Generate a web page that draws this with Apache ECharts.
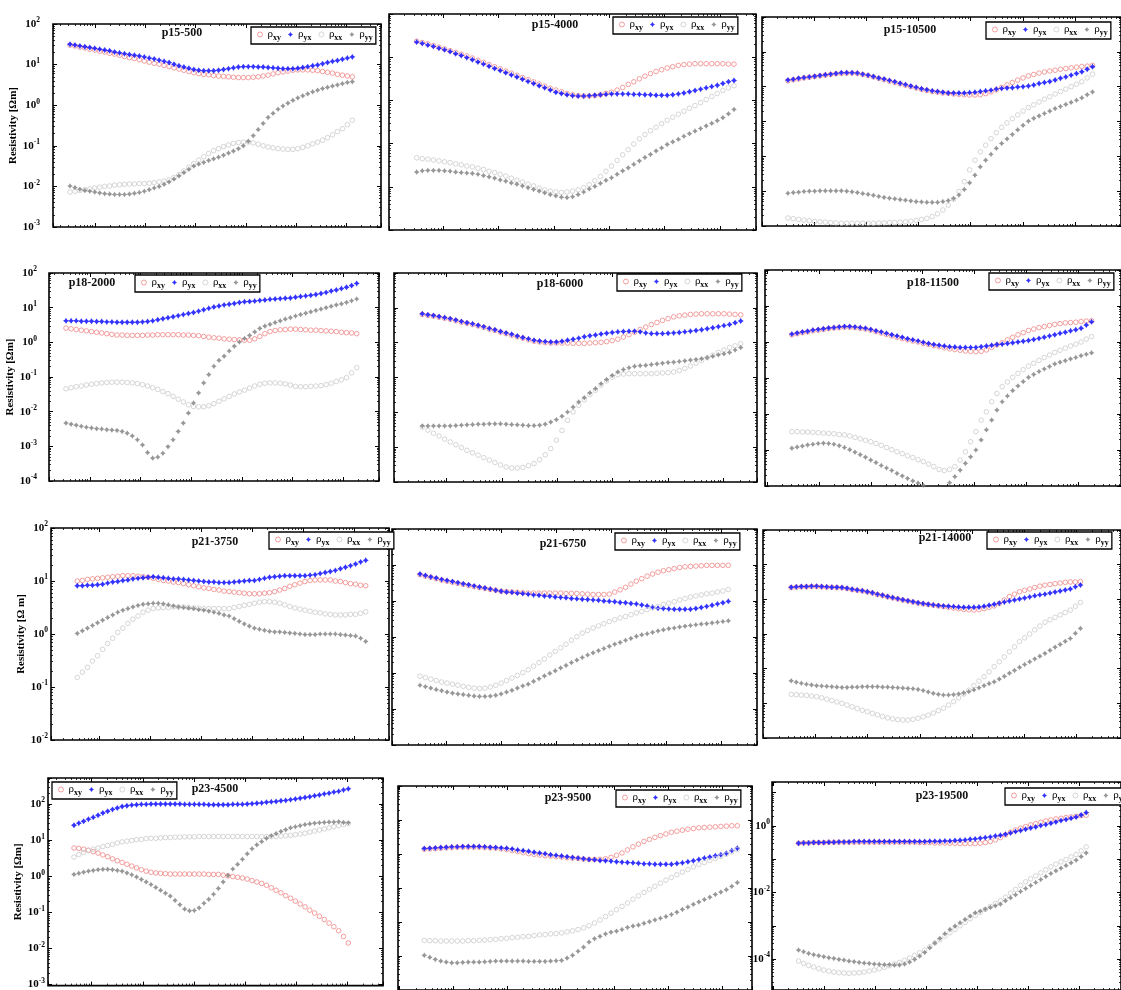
<!DOCTYPE html>
<html><head><meta charset="utf-8">
<script src="https://cdn.jsdelivr.net/npm/echarts@6/dist/echarts.min.js"></script>
<style>html,body{margin:0;padding:0;background:#fff}#c{width:1121px;height:990px}</style>
</head><body><div id="c"></div>
<script>
// Values are log10 of resistivity (Ωm),
// 58 samples per curve (index = position along the frequency axis).
const p15_500_xy=[1.48,1.46,1.43,1.41,1.38,1.36,1.33,1.31,1.28,1.26,1.23,1.20,1.17,1.15,1.12,1.09,1.06,1.03,1.01,0.98,0.95,0.92,0.89,0.86,0.83,0.80,0.78,0.76,0.75,0.73,0.72,0.71,0.70,0.69,0.68,0.68,0.68,0.69,0.70,0.72,0.74,0.77,0.80,0.82,0.84,0.86,0.87,0.87,0.87,0.86,0.85,0.83,0.81,0.79,0.76,0.74,0.72,0.70];
const p15_500_yx=[1.50,1.48,1.46,1.44,1.42,1.40,1.38,1.36,1.34,1.31,1.29,1.27,1.25,1.23,1.21,1.19,1.16,1.14,1.11,1.08,1.05,1.01,0.97,0.94,0.91,0.88,0.86,0.85,0.85,0.85,0.86,0.88,0.90,0.92,0.94,0.95,0.95,0.95,0.94,0.94,0.93,0.92,0.91,0.90,0.90,0.90,0.91,0.93,0.95,0.97,0.99,1.02,1.05,1.08,1.10,1.13,1.16,1.19];
const p15_500_xx=[-2.14,-2.12,-2.10,-2.08,-2.06,-2.04,-2.02,-2.00,-1.99,-1.97,-1.96,-1.95,-1.94,-1.94,-1.93,-1.93,-1.92,-1.91,-1.89,-1.87,-1.84,-1.78,-1.71,-1.62,-1.53,-1.44,-1.35,-1.27,-1.19,-1.12,-1.07,-1.02,-0.98,-0.94,-0.92,-0.91,-0.91,-0.93,-0.96,-1.00,-1.03,-1.05,-1.07,-1.08,-1.09,-1.09,-1.07,-1.04,-1.00,-0.95,-0.91,-0.86,-0.80,-0.73,-0.65,-0.58,-0.48,-0.37];
const p15_500_yy=[-1.99,-2.03,-2.07,-2.10,-2.12,-2.14,-2.16,-2.18,-2.19,-2.20,-2.20,-2.20,-2.19,-2.17,-2.15,-2.12,-2.08,-2.04,-2.00,-1.95,-1.89,-1.82,-1.74,-1.66,-1.58,-1.50,-1.45,-1.41,-1.36,-1.32,-1.28,-1.23,-1.18,-1.13,-1.07,-1.00,-0.89,-0.75,-0.60,-0.45,-0.30,-0.20,-0.10,-0.02,0.05,0.12,0.18,0.23,0.28,0.33,0.37,0.41,0.44,0.47,0.50,0.53,0.56,0.58];

const p15_4000_xy=[1.37,1.34,1.31,1.27,1.23,1.19,1.15,1.11,1.07,1.03,0.98,0.93,0.88,0.83,0.78,0.73,0.68,0.63,0.58,0.53,0.48,0.43,0.38,0.33,0.28,0.24,0.20,0.16,0.13,0.11,0.10,0.10,0.11,0.13,0.16,0.19,0.24,0.30,0.37,0.43,0.50,0.56,0.62,0.67,0.71,0.75,0.78,0.81,0.83,0.84,0.85,0.85,0.85,0.85,0.85,0.85,0.84,0.84];
const p15_4000_yx=[1.35,1.32,1.28,1.25,1.21,1.17,1.13,1.08,1.04,0.99,0.94,0.89,0.84,0.79,0.74,0.69,0.64,0.59,0.54,0.49,0.44,0.39,0.34,0.29,0.24,0.19,0.16,0.13,0.11,0.10,0.10,0.11,0.12,0.13,0.14,0.15,0.15,0.15,0.15,0.14,0.14,0.13,0.13,0.12,0.12,0.12,0.13,0.15,0.17,0.20,0.23,0.26,0.29,0.32,0.35,0.39,0.43,0.46];
const p15_4000_xx=[-1.33,-1.35,-1.36,-1.38,-1.40,-1.42,-1.44,-1.47,-1.49,-1.52,-1.54,-1.57,-1.60,-1.64,-1.67,-1.71,-1.75,-1.80,-1.85,-1.89,-1.94,-1.98,-2.03,-2.07,-2.10,-2.12,-2.13,-2.12,-2.10,-2.07,-2.02,-1.95,-1.86,-1.76,-1.64,-1.52,-1.39,-1.26,-1.14,-1.01,-0.89,-0.79,-0.70,-0.62,-0.54,-0.46,-0.39,-0.32,-0.25,-0.18,-0.12,-0.05,0.02,0.09,0.16,0.23,0.29,0.34];
const p15_4000_yy=[-1.66,-1.63,-1.62,-1.62,-1.62,-1.63,-1.64,-1.66,-1.67,-1.68,-1.69,-1.71,-1.74,-1.77,-1.80,-1.84,-1.87,-1.91,-1.94,-1.98,-2.02,-2.06,-2.10,-2.14,-2.18,-2.21,-2.24,-2.25,-2.23,-2.18,-2.12,-2.05,-1.99,-1.92,-1.85,-1.79,-1.71,-1.63,-1.56,-1.48,-1.40,-1.32,-1.25,-1.17,-1.10,-1.02,-0.96,-0.90,-0.83,-0.77,-0.71,-0.65,-0.59,-0.53,-0.47,-0.40,-0.31,-0.21];

const p15_10500_xy=[0.17,0.20,0.22,0.25,0.27,0.29,0.31,0.33,0.35,0.37,0.38,0.39,0.39,0.38,0.35,0.32,0.28,0.24,0.20,0.16,0.12,0.08,0.04,0.00,-0.04,-0.08,-0.11,-0.14,-0.16,-0.18,-0.19,-0.21,-0.22,-0.23,-0.24,-0.24,-0.23,-0.20,-0.15,-0.09,-0.02,0.05,0.12,0.19,0.25,0.31,0.35,0.39,0.42,0.45,0.47,0.50,0.52,0.54,0.56,0.58,0.59,0.61];
const p15_10500_yx=[0.19,0.21,0.24,0.26,0.28,0.30,0.32,0.34,0.36,0.38,0.40,0.40,0.40,0.39,0.36,0.33,0.29,0.25,0.22,0.18,0.14,0.10,0.06,0.02,-0.02,-0.06,-0.09,-0.12,-0.14,-0.16,-0.18,-0.18,-0.18,-0.18,-0.17,-0.16,-0.14,-0.12,-0.10,-0.07,-0.05,-0.04,-0.03,-0.01,0.00,0.02,0.05,0.09,0.12,0.15,0.19,0.24,0.28,0.33,0.38,0.43,0.50,0.57];
const p15_10500_xx=[-3.77,-3.79,-3.81,-3.83,-3.85,-3.87,-3.88,-3.89,-3.90,-3.91,-3.92,-3.92,-3.92,-3.92,-3.92,-3.92,-3.92,-3.91,-3.91,-3.90,-3.90,-3.89,-3.88,-3.86,-3.84,-3.81,-3.78,-3.73,-3.65,-3.54,-3.40,-3.23,-3.01,-2.73,-2.39,-2.11,-1.87,-1.68,-1.49,-1.32,-1.17,-1.04,-0.92,-0.81,-0.70,-0.60,-0.52,-0.44,-0.36,-0.29,-0.21,-0.14,-0.07,0.00,0.07,0.14,0.25,0.36];
const p15_10500_yy=[-3.06,-3.04,-3.03,-3.01,-3.00,-3.00,-2.99,-2.99,-2.99,-2.99,-2.99,-3.00,-3.02,-3.04,-3.07,-3.09,-3.12,-3.15,-3.18,-3.20,-3.22,-3.24,-3.26,-3.28,-3.30,-3.31,-3.32,-3.32,-3.32,-3.30,-3.27,-3.21,-3.11,-2.95,-2.76,-2.54,-2.30,-2.11,-1.94,-1.77,-1.63,-1.50,-1.37,-1.24,-1.11,-0.99,-0.91,-0.84,-0.77,-0.70,-0.63,-0.57,-0.51,-0.45,-0.39,-0.32,-0.23,-0.15];

const p18_2000_xy=[0.41,0.39,0.37,0.35,0.33,0.31,0.29,0.27,0.25,0.23,0.21,0.21,0.20,0.20,0.20,0.20,0.21,0.21,0.22,0.22,0.22,0.22,0.22,0.21,0.21,0.20,0.19,0.17,0.15,0.13,0.12,0.10,0.09,0.08,0.07,0.06,0.06,0.10,0.17,0.25,0.31,0.34,0.36,0.37,0.38,0.38,0.37,0.36,0.35,0.35,0.34,0.33,0.32,0.31,0.29,0.28,0.27,0.25];
const p18_2000_yx=[0.62,0.62,0.62,0.61,0.61,0.61,0.60,0.60,0.59,0.59,0.58,0.58,0.58,0.58,0.58,0.59,0.60,0.62,0.65,0.68,0.71,0.74,0.77,0.80,0.83,0.86,0.90,0.94,0.98,1.02,1.05,1.08,1.10,1.12,1.15,1.17,1.18,1.19,1.21,1.22,1.24,1.25,1.26,1.27,1.28,1.30,1.32,1.34,1.36,1.38,1.41,1.44,1.48,1.51,1.55,1.59,1.64,1.70];
const p18_2000_xx=[-1.34,-1.31,-1.28,-1.26,-1.23,-1.21,-1.19,-1.17,-1.16,-1.15,-1.15,-1.15,-1.16,-1.17,-1.19,-1.22,-1.26,-1.31,-1.36,-1.42,-1.48,-1.56,-1.64,-1.72,-1.80,-1.85,-1.86,-1.86,-1.83,-1.77,-1.70,-1.63,-1.56,-1.49,-1.43,-1.38,-1.32,-1.26,-1.21,-1.18,-1.17,-1.17,-1.18,-1.20,-1.23,-1.27,-1.28,-1.28,-1.27,-1.26,-1.25,-1.22,-1.18,-1.13,-1.08,-1.02,-0.88,-0.73];
const p18_2000_yy=[-2.33,-2.36,-2.39,-2.42,-2.45,-2.47,-2.49,-2.50,-2.52,-2.53,-2.54,-2.57,-2.62,-2.70,-2.81,-2.96,-3.18,-3.34,-3.31,-3.20,-3.01,-2.81,-2.57,-2.33,-2.04,-1.75,-1.46,-1.17,-0.93,-0.69,-0.52,-0.40,-0.25,-0.11,0.01,0.11,0.20,0.30,0.40,0.47,0.52,0.57,0.62,0.67,0.71,0.76,0.80,0.84,0.88,0.92,0.96,1.00,1.04,1.08,1.11,1.15,1.20,1.25];

const p18_6000_xy=[0.81,0.78,0.76,0.73,0.70,0.67,0.63,0.59,0.56,0.52,0.48,0.44,0.39,0.35,0.30,0.26,0.21,0.17,0.13,0.08,0.04,0.02,0.00,-0.01,-0.01,-0.01,-0.01,-0.02,-0.02,-0.02,-0.01,0.00,0.01,0.03,0.06,0.10,0.16,0.23,0.30,0.38,0.45,0.52,0.58,0.64,0.69,0.74,0.77,0.79,0.81,0.82,0.83,0.83,0.83,0.83,0.83,0.82,0.81,0.80];
const p18_6000_yx=[0.83,0.80,0.78,0.75,0.72,0.69,0.65,0.61,0.57,0.54,0.50,0.46,0.41,0.37,0.32,0.28,0.24,0.19,0.15,0.11,0.07,0.05,0.03,0.02,0.02,0.04,0.07,0.10,0.13,0.17,0.20,0.22,0.25,0.27,0.29,0.31,0.32,0.33,0.33,0.31,0.28,0.26,0.26,0.26,0.27,0.28,0.29,0.31,0.33,0.35,0.37,0.40,0.43,0.46,0.49,0.52,0.57,0.62];
const p18_6000_xx=[-2.42,-2.51,-2.60,-2.68,-2.77,-2.85,-2.93,-3.01,-3.09,-3.16,-3.23,-3.30,-3.37,-3.44,-3.51,-3.57,-3.60,-3.60,-3.58,-3.53,-3.47,-3.36,-3.22,-3.04,-2.80,-2.52,-2.23,-1.99,-1.80,-1.64,-1.49,-1.37,-1.22,-1.10,-0.99,-0.92,-0.90,-0.89,-0.89,-0.89,-0.89,-0.89,-0.88,-0.87,-0.86,-0.84,-0.80,-0.74,-0.67,-0.59,-0.51,-0.43,-0.36,-0.28,-0.21,-0.14,-0.09,-0.03];
const p18_6000_yy=[-2.39,-2.39,-2.39,-2.39,-2.39,-2.39,-2.38,-2.37,-2.36,-2.35,-2.34,-2.34,-2.33,-2.33,-2.33,-2.34,-2.35,-2.36,-2.37,-2.38,-2.38,-2.37,-2.34,-2.28,-2.21,-2.11,-1.99,-1.85,-1.70,-1.58,-1.44,-1.32,-1.18,-1.06,-0.94,-0.84,-0.77,-0.72,-0.68,-0.66,-0.65,-0.63,-0.61,-0.59,-0.57,-0.56,-0.54,-0.52,-0.50,-0.48,-0.46,-0.43,-0.39,-0.35,-0.32,-0.28,-0.21,-0.14];

const p18_11500_xy=[0.20,0.23,0.26,0.28,0.31,0.33,0.35,0.37,0.39,0.40,0.41,0.41,0.40,0.38,0.36,0.33,0.29,0.25,0.21,0.17,0.13,0.09,0.06,0.03,0.00,-0.04,-0.07,-0.10,-0.13,-0.16,-0.19,-0.21,-0.23,-0.25,-0.26,-0.27,-0.26,-0.22,-0.15,-0.08,-0.02,0.06,0.13,0.20,0.26,0.32,0.36,0.40,0.43,0.46,0.49,0.51,0.53,0.54,0.55,0.57,0.58,0.59];
const p18_11500_yx=[0.22,0.25,0.28,0.30,0.33,0.35,0.37,0.39,0.40,0.42,0.43,0.43,0.42,0.40,0.38,0.35,0.31,0.28,0.24,0.20,0.17,0.13,0.09,0.06,0.03,-0.01,-0.04,-0.07,-0.09,-0.11,-0.13,-0.14,-0.15,-0.15,-0.15,-0.15,-0.13,-0.11,-0.09,-0.07,-0.06,-0.04,-0.02,0.00,0.02,0.04,0.07,0.10,0.13,0.17,0.20,0.24,0.27,0.31,0.34,0.38,0.47,0.56];
const p18_11500_xx=[-2.49,-2.49,-2.50,-2.50,-2.51,-2.52,-2.53,-2.54,-2.55,-2.57,-2.58,-2.61,-2.65,-2.69,-2.73,-2.77,-2.82,-2.87,-2.93,-2.99,-3.05,-3.10,-3.16,-3.21,-3.27,-3.32,-3.39,-3.46,-3.54,-3.57,-3.54,-3.46,-3.28,-3.05,-2.77,-2.49,-2.17,-1.94,-1.66,-1.43,-1.24,-1.11,-0.98,-0.87,-0.77,-0.67,-0.59,-0.51,-0.43,-0.36,-0.29,-0.23,-0.17,-0.11,-0.06,0.00,0.08,0.15];
const p18_11500_yy=[-2.95,-2.92,-2.89,-2.86,-2.84,-2.82,-2.81,-2.82,-2.84,-2.88,-2.93,-2.99,-3.06,-3.13,-3.20,-3.28,-3.35,-3.43,-3.50,-3.57,-3.65,-3.72,-3.79,-3.86,-3.92,-3.98,-4.05,-4.11,-4.11,-4.05,-3.91,-3.74,-3.56,-3.37,-3.19,-3.00,-2.72,-2.44,-2.17,-1.89,-1.66,-1.50,-1.35,-1.22,-1.10,-0.98,-0.90,-0.82,-0.75,-0.68,-0.61,-0.56,-0.52,-0.47,-0.43,-0.38,-0.34,-0.30];

const p21_3750_xy=[1.00,1.01,1.03,1.04,1.05,1.06,1.07,1.08,1.09,1.10,1.10,1.10,1.09,1.08,1.07,1.05,1.03,1.01,1.00,0.98,0.97,0.95,0.93,0.91,0.89,0.87,0.86,0.84,0.83,0.81,0.80,0.79,0.78,0.77,0.76,0.76,0.76,0.77,0.78,0.80,0.83,0.86,0.90,0.93,0.96,0.99,1.01,1.02,1.02,1.02,1.02,1.00,0.99,0.97,0.95,0.94,0.92,0.91];
const p21_3750_yx=[0.91,0.91,0.92,0.92,0.93,0.94,0.96,0.98,0.99,1.01,1.02,1.04,1.05,1.06,1.07,1.08,1.07,1.06,1.05,1.04,1.04,1.03,1.02,1.01,1.00,0.99,0.98,0.98,0.97,0.97,0.97,0.98,0.99,1.00,1.01,1.01,1.03,1.05,1.07,1.08,1.09,1.10,1.10,1.10,1.10,1.10,1.11,1.12,1.14,1.16,1.18,1.20,1.23,1.26,1.29,1.32,1.36,1.39];
const p21_3750_xx=[-0.82,-0.72,-0.63,-0.51,-0.41,-0.29,-0.18,-0.08,0.03,0.11,0.20,0.28,0.34,0.41,0.45,0.48,0.49,0.50,0.50,0.51,0.51,0.51,0.50,0.49,0.49,0.48,0.48,0.48,0.48,0.48,0.48,0.50,0.52,0.54,0.56,0.58,0.60,0.61,0.61,0.60,0.58,0.55,0.52,0.49,0.47,0.45,0.43,0.41,0.40,0.38,0.37,0.36,0.36,0.36,0.37,0.37,0.39,0.42];
const p21_3750_yy=[0.01,0.06,0.11,0.16,0.21,0.26,0.31,0.36,0.41,0.45,0.48,0.51,0.54,0.56,0.57,0.58,0.58,0.57,0.55,0.53,0.51,0.50,0.49,0.48,0.46,0.45,0.43,0.41,0.39,0.36,0.34,0.29,0.24,0.19,0.15,0.11,0.09,0.07,0.05,0.04,0.04,0.03,0.02,0.01,0.00,-0.01,-0.01,-0.01,0.00,0.00,0.00,0.00,-0.01,-0.02,-0.03,-0.04,-0.08,-0.14];

const p21_6750_xy=[0.73,0.69,0.66,0.62,0.58,0.55,0.52,0.49,0.46,0.43,0.40,0.37,0.35,0.32,0.30,0.27,0.26,0.25,0.24,0.23,0.22,0.22,0.22,0.22,0.22,0.22,0.22,0.21,0.21,0.21,0.20,0.19,0.18,0.18,0.18,0.19,0.25,0.31,0.38,0.47,0.55,0.62,0.69,0.75,0.80,0.84,0.87,0.90,0.93,0.95,0.96,0.97,0.98,0.99,0.99,0.99,0.99,0.99];
const p21_6750_yx=[0.75,0.71,0.67,0.64,0.60,0.57,0.54,0.51,0.48,0.45,0.42,0.39,0.36,0.33,0.30,0.27,0.25,0.24,0.22,0.21,0.19,0.17,0.16,0.14,0.13,0.11,0.10,0.09,0.07,0.06,0.05,0.04,0.03,0.02,0.00,-0.01,-0.02,-0.04,-0.05,-0.07,-0.08,-0.11,-0.14,-0.17,-0.20,-0.21,-0.22,-0.23,-0.23,-0.23,-0.23,-0.21,-0.18,-0.15,-0.12,-0.08,-0.05,-0.01];
const p21_6750_xx=[-2.09,-2.13,-2.17,-2.21,-2.25,-2.28,-2.31,-2.34,-2.37,-2.40,-2.42,-2.43,-2.42,-2.39,-2.34,-2.28,-2.21,-2.14,-2.07,-1.99,-1.91,-1.81,-1.71,-1.61,-1.50,-1.40,-1.30,-1.20,-1.09,-0.99,-0.89,-0.82,-0.75,-0.69,-0.63,-0.57,-0.52,-0.47,-0.43,-0.38,-0.33,-0.29,-0.24,-0.19,-0.15,-0.10,-0.06,-0.02,0.03,0.07,0.11,0.14,0.17,0.20,0.22,0.25,0.28,0.32];
const p21_6750_yy=[-2.34,-2.38,-2.42,-2.46,-2.49,-2.53,-2.56,-2.58,-2.60,-2.62,-2.64,-2.65,-2.65,-2.64,-2.62,-2.58,-2.53,-2.48,-2.42,-2.36,-2.31,-2.23,-2.16,-2.08,-2.01,-1.94,-1.86,-1.79,-1.71,-1.64,-1.57,-1.50,-1.44,-1.38,-1.32,-1.26,-1.20,-1.15,-1.09,-1.04,-0.98,-0.94,-0.91,-0.87,-0.83,-0.80,-0.77,-0.75,-0.72,-0.70,-0.68,-0.66,-0.64,-0.63,-0.61,-0.59,-0.57,-0.55];

const p21_14000_xy=[0.34,0.35,0.36,0.36,0.37,0.37,0.36,0.35,0.35,0.34,0.33,0.31,0.28,0.26,0.24,0.21,0.18,0.14,0.11,0.07,0.04,0.01,-0.02,-0.05,-0.08,-0.11,-0.13,-0.15,-0.17,-0.19,-0.21,-0.23,-0.25,-0.27,-0.29,-0.30,-0.31,-0.30,-0.27,-0.23,-0.19,-0.12,-0.02,0.08,0.15,0.22,0.26,0.30,0.34,0.38,0.41,0.43,0.45,0.47,0.49,0.50,0.50,0.51];
const p21_14000_yx=[0.35,0.36,0.37,0.37,0.38,0.38,0.37,0.36,0.35,0.35,0.34,0.32,0.29,0.27,0.25,0.22,0.19,0.15,0.12,0.08,0.05,0.02,-0.01,-0.04,-0.07,-0.10,-0.12,-0.14,-0.16,-0.18,-0.19,-0.20,-0.21,-0.22,-0.23,-0.23,-0.23,-0.22,-0.20,-0.17,-0.14,-0.11,-0.08,-0.05,-0.02,0.01,0.04,0.07,0.10,0.13,0.15,0.18,0.21,0.24,0.27,0.30,0.36,0.41];
const p21_14000_xx=[-2.74,-2.75,-2.76,-2.77,-2.79,-2.81,-2.84,-2.88,-2.92,-2.96,-3.00,-3.05,-3.10,-3.15,-3.20,-3.24,-3.29,-3.33,-3.38,-3.42,-3.45,-3.47,-3.48,-3.48,-3.46,-3.43,-3.39,-3.34,-3.28,-3.21,-3.14,-3.05,-2.95,-2.84,-2.73,-2.62,-2.49,-2.36,-2.23,-2.09,-1.94,-1.80,-1.66,-1.51,-1.37,-1.22,-1.11,-1.00,-0.88,-0.77,-0.66,-0.59,-0.52,-0.45,-0.38,-0.31,-0.20,-0.09];
const p21_14000_yy=[-2.35,-2.39,-2.42,-2.45,-2.47,-2.49,-2.50,-2.51,-2.52,-2.53,-2.54,-2.54,-2.53,-2.53,-2.52,-2.52,-2.52,-2.52,-2.53,-2.53,-2.54,-2.55,-2.56,-2.57,-2.58,-2.60,-2.63,-2.67,-2.71,-2.74,-2.76,-2.76,-2.75,-2.73,-2.70,-2.66,-2.61,-2.55,-2.49,-2.43,-2.38,-2.30,-2.22,-2.13,-2.05,-1.96,-1.88,-1.80,-1.72,-1.64,-1.56,-1.47,-1.38,-1.30,-1.21,-1.13,-0.98,-0.84];

const p23_4500_xy=[0.78,0.77,0.75,0.72,0.68,0.64,0.59,0.54,0.48,0.43,0.38,0.33,0.28,0.23,0.18,0.14,0.11,0.09,0.08,0.07,0.06,0.06,0.06,0.06,0.06,0.06,0.06,0.06,0.05,0.05,0.05,0.03,0.01,-0.01,-0.03,-0.05,-0.08,-0.12,-0.16,-0.20,-0.25,-0.32,-0.39,-0.46,-0.54,-0.61,-0.69,-0.77,-0.85,-0.94,-1.02,-1.11,-1.20,-1.30,-1.40,-1.51,-1.67,-1.85];
const p23_4500_yx=[1.41,1.47,1.52,1.58,1.63,1.69,1.75,1.80,1.85,1.89,1.93,1.95,1.97,1.98,1.99,1.99,2.00,2.00,2.00,2.00,2.00,2.00,2.00,1.99,1.99,1.99,1.99,1.99,1.98,1.98,1.98,1.98,1.98,1.99,1.99,1.99,2.00,2.01,2.02,2.03,2.05,2.06,2.07,2.09,2.10,2.12,2.14,2.16,2.18,2.20,2.23,2.25,2.28,2.30,2.33,2.35,2.39,2.42];
const p23_4500_xx=[0.53,0.60,0.66,0.71,0.75,0.78,0.82,0.85,0.88,0.92,0.95,0.97,0.99,1.01,1.02,1.04,1.05,1.05,1.06,1.07,1.07,1.08,1.08,1.09,1.09,1.09,1.10,1.10,1.10,1.10,1.10,1.10,1.10,1.10,1.10,1.10,1.10,1.10,1.10,1.10,1.10,1.10,1.10,1.11,1.12,1.13,1.15,1.17,1.19,1.22,1.25,1.28,1.31,1.34,1.37,1.40,1.43,1.46];
const p23_4500_yy=[0.05,0.08,0.11,0.14,0.16,0.18,0.19,0.19,0.18,0.16,0.14,0.09,0.04,-0.02,-0.09,-0.16,-0.23,-0.31,-0.39,-0.47,-0.55,-0.67,-0.79,-0.91,-0.96,-0.95,-0.88,-0.75,-0.64,-0.50,-0.34,-0.16,0.02,0.20,0.33,0.47,0.62,0.76,0.87,0.96,1.05,1.12,1.18,1.24,1.29,1.34,1.37,1.40,1.43,1.45,1.47,1.48,1.49,1.50,1.50,1.51,1.49,1.48];

const p23_9500_xy=[0.14,0.15,0.16,0.17,0.18,0.19,0.20,0.20,0.20,0.20,0.20,0.19,0.18,0.17,0.15,0.13,0.10,0.07,0.04,0.01,-0.01,-0.03,-0.05,-0.06,-0.08,-0.09,-0.11,-0.12,-0.13,-0.15,-0.16,-0.16,-0.16,-0.14,-0.10,-0.04,0.03,0.12,0.21,0.29,0.37,0.43,0.49,0.54,0.59,0.64,0.67,0.70,0.73,0.75,0.77,0.78,0.79,0.80,0.81,0.82,0.83,0.83];
const p23_9500_yx=[0.16,0.17,0.18,0.19,0.20,0.21,0.21,0.22,0.22,0.22,0.22,0.21,0.20,0.19,0.18,0.17,0.15,0.12,0.10,0.08,0.05,0.03,0.01,-0.02,-0.04,-0.06,-0.08,-0.10,-0.12,-0.14,-0.16,-0.17,-0.19,-0.20,-0.21,-0.23,-0.24,-0.25,-0.26,-0.27,-0.29,-0.29,-0.30,-0.30,-0.30,-0.30,-0.28,-0.26,-0.23,-0.20,-0.16,-0.12,-0.09,-0.05,-0.02,0.02,0.10,0.17];
const p23_9500_xx=[-2.54,-2.55,-2.55,-2.56,-2.56,-2.56,-2.56,-2.56,-2.55,-2.55,-2.54,-2.53,-2.52,-2.51,-2.49,-2.48,-2.46,-2.45,-2.43,-2.42,-2.40,-2.38,-2.37,-2.35,-2.34,-2.32,-2.29,-2.26,-2.22,-2.17,-2.11,-2.03,-1.94,-1.84,-1.74,-1.64,-1.54,-1.44,-1.33,-1.23,-1.13,-1.04,-0.95,-0.86,-0.77,-0.69,-0.61,-0.53,-0.46,-0.38,-0.31,-0.25,-0.19,-0.13,-0.07,-0.01,0.06,0.13];
const p23_9500_yy=[-2.98,-3.04,-3.10,-3.15,-3.18,-3.20,-3.20,-3.19,-3.18,-3.18,-3.18,-3.17,-3.16,-3.15,-3.15,-3.15,-3.15,-3.15,-3.15,-3.16,-3.16,-3.16,-3.16,-3.15,-3.14,-3.13,-3.06,-2.98,-2.86,-2.74,-2.59,-2.49,-2.42,-2.35,-2.30,-2.27,-2.22,-2.16,-2.12,-2.09,-2.04,-1.99,-1.94,-1.89,-1.84,-1.78,-1.71,-1.63,-1.56,-1.48,-1.41,-1.34,-1.27,-1.19,-1.12,-1.05,-0.95,-0.84];

const p23_19500_xy=[-0.52,-0.51,-0.51,-0.50,-0.50,-0.50,-0.49,-0.49,-0.49,-0.49,-0.49,-0.49,-0.49,-0.49,-0.49,-0.49,-0.49,-0.49,-0.49,-0.49,-0.49,-0.49,-0.49,-0.49,-0.50,-0.50,-0.50,-0.51,-0.51,-0.51,-0.52,-0.52,-0.53,-0.53,-0.53,-0.53,-0.52,-0.50,-0.47,-0.42,-0.35,-0.27,-0.19,-0.12,-0.07,-0.02,0.03,0.07,0.11,0.15,0.18,0.21,0.23,0.25,0.27,0.29,0.31,0.32];
const p23_19500_yx=[-0.52,-0.51,-0.51,-0.50,-0.50,-0.50,-0.49,-0.49,-0.48,-0.48,-0.48,-0.47,-0.47,-0.47,-0.47,-0.47,-0.47,-0.47,-0.47,-0.47,-0.47,-0.47,-0.47,-0.47,-0.47,-0.47,-0.46,-0.46,-0.46,-0.45,-0.45,-0.44,-0.43,-0.42,-0.40,-0.39,-0.37,-0.35,-0.33,-0.30,-0.28,-0.25,-0.21,-0.17,-0.14,-0.10,-0.06,-0.03,0.01,0.04,0.08,0.12,0.16,0.19,0.23,0.27,0.33,0.40];
const p23_19500_xx=[-4.06,-4.13,-4.19,-4.24,-4.29,-4.33,-4.36,-4.39,-4.41,-4.42,-4.43,-4.42,-4.41,-4.39,-4.36,-4.33,-4.29,-4.25,-4.20,-4.15,-4.10,-4.04,-3.97,-3.89,-3.81,-3.73,-3.63,-3.52,-3.42,-3.31,-3.21,-3.11,-3.00,-2.90,-2.79,-2.69,-2.60,-2.51,-2.42,-2.33,-2.25,-2.14,-2.02,-1.91,-1.79,-1.68,-1.59,-1.50,-1.41,-1.32,-1.23,-1.15,-1.08,-1.01,-0.93,-0.86,-0.75,-0.63];
const p23_19500_yy=[-3.73,-3.78,-3.83,-3.87,-3.90,-3.93,-3.96,-3.98,-4.01,-4.03,-4.06,-4.08,-4.10,-4.12,-4.13,-4.15,-4.16,-4.17,-4.17,-4.18,-4.18,-4.15,-4.09,-4.01,-3.91,-3.80,-3.66,-3.52,-3.38,-3.24,-3.11,-3.01,-2.91,-2.81,-2.71,-2.61,-2.56,-2.50,-2.45,-2.40,-2.35,-2.25,-2.16,-2.07,-1.97,-1.88,-1.79,-1.70,-1.61,-1.52,-1.43,-1.35,-1.27,-1.19,-1.11,-1.03,-0.92,-0.81];

const panelNames=['p15-500','p15-4000','p15-10500','p18-2000','p18-6000','p18-11500','p21-3750','p21-6750','p21-14000','p23-4500','p23-9500','p23-19500'];
const seriesNames=['ρxy','ρyx','ρxx','ρyy'];
const yAxisTitles=['Resistivity [Ωm]','Resistivity [Ωm]','Resistivity [Ω m]','Resistivity [Ωm]'];
const panelData=[
 [p15_500_xy,p15_500_yx,p15_500_xx,p15_500_yy],
 [p15_4000_xy,p15_4000_yx,p15_4000_xx,p15_4000_yy],
 [p15_10500_xy,p15_10500_yx,p15_10500_xx,p15_10500_yy],
 [p18_2000_xy,p18_2000_yx,p18_2000_xx,p18_2000_yy],
 [p18_6000_xy,p18_6000_yx,p18_6000_xx,p18_6000_yy],
 [p18_11500_xy,p18_11500_yx,p18_11500_xx,p18_11500_yy],
 [p21_3750_xy,p21_3750_yx,p21_3750_xx,p21_3750_yy],
 [p21_6750_xy,p21_6750_yx,p21_6750_xx,p21_6750_yy],
 [p21_14000_xy,p21_14000_yx,p21_14000_xx,p21_14000_yy],
 [p23_4500_xy,p23_4500_yx,p23_4500_xx,p23_4500_yy],
 [p23_9500_xy,p23_9500_yx,p23_9500_xx,p23_9500_yy],
 [p23_19500_xy,p23_19500_yx,p23_19500_xx,p23_19500_yy]
];

// ---- layout (pixel boxes, axis decade ranges, styling) ----
const layout=[
 {box:[53,24,381,227], yr:[-3,2], dp:[70,352.3], xt:[95,50.3], title:[182,33], legend:[251,27], lab:{margin:13, gap:29, name:0}},
 {box:[389,14,756,230], yr:[-3,2], dp:[416.7,734], xt:[443.3,55.3], title:[555,25], legend:[613,17]},
 {box:[762,17,1140,226], yr:[-4,2], dp:[789.3,1110], xt:[816.7,55], title:[910,30], legend:[986,22]},
 {box:[49,273,379,481], yr:[-4,2], dp:[66,356.7], xt:[90,50.6], title:[92,283], legend:[135,275], lab:{margin:12, gap:27, name:1}},
 {box:[394,273,757,482], yr:[-4,2], dp:[422.3,740.7], xt:[446.7,55.3], title:[560,284], legend:[617,274]},
 {box:[765,270,1140,486], yr:[-4,2], dp:[793.3,1109], xt:[821.7,54.7], title:[933,283], legend:[989,273]},
 {box:[51,528,389,740], yr:[-2,2], dp:[77.3,365.7], xt:[99.3,51], title:[215,542], legend:[269,532], lab:{margin:3, gap:16, name:2}},
 {box:[392,529,757,745], yr:[-4,2], dp:[420,728.3], xt:[446.7,54.9], title:[563,544], legend:[615,533]},
 {box:[763,530,1140,738], yr:[-4,2], dp:[792.7,1097.3], xt:[818.3,55], title:[945,538], legend:[987,532]},
 {box:[48,778,383,991], yr:[-3.03,2.72], dp:[74,348.3], xt:[91.7,51.2], title:[215,789], legend:[52,782], lab:{margin:3, gap:21, name:3}},
 {box:[398,786,752,992], yr:[-4,2], dp:[424.3,737.3], xt:[453.3,53.7], title:[568,798], legend:[616,790]},
 {box:[772,782,1140,992], yr:[-4.93,1.32], dp:[800,1103.3], xt:[826.7,53.8], title:[942,796], legend:[1005,788], lab:{margin:2, even:true}}
];

const SERIF='"Liberation Serif","DejaVu Serif",serif';
const STAR='path://M0,-6L2.4,-2.4L6,0L2.4,2.4L0,6L-2.4,2.4L-6,0L-2.4,-2.4Z';
const markers=[
 {symbol:'circle', symbolSize:4.6, itemStyle:{color:'rgba(255,255,255,0)', borderColor:'#ee7b7b', borderWidth:0.9}},
 {symbol:STAR, symbolSize:6, itemStyle:{color:'#0000ff'}},
 {symbol:'circle', symbolSize:4.6, itemStyle:{color:'rgba(255,255,255,0)', borderColor:'#c6c6c6', borderWidth:0.9}},
 {symbol:STAR, symbolSize:5.5, itemStyle:{color:'#7d7d7d'}}
];
const legendIcons=[
 {icon:'circle', itemStyle:{color:'rgba(255,255,255,0)', borderColor:'#ee7b7b', borderWidth:0.9}},
 {icon:STAR, itemStyle:{color:'#0000ff', borderWidth:0}},
 {icon:'circle', itemStyle:{color:'rgba(255,255,255,0)', borderColor:'#c6c6c6', borderWidth:0.9}},
 {icon:STAR, itemStyle:{color:'#7d7d7d', borderWidth:0}}
];

const option={backgroundColor:'#fff', animation:false, textStyle:{fontFamily:SERIF},
  grid:[], xAxis:[], yAxis:[], series:[], legend:[], graphic:[]};

const tickStyle={show:true, inside:true, length:4, lineStyle:{color:'#000', width:1}};
const minorStyle={show:true, splitNumber:9, length:2, lineStyle:{color:'#000', width:0.8}};

layout.forEach((lay,k)=>{
  const [L,T,R,B]=lay.box;
  const N=panelData[k][0].length;
  option.grid.push({left:L, top:T, width:R-L, height:B-T, show:true, borderColor:'#000', borderWidth:1.6, backgroundColor:'rgba(0,0,0,0)'});
  const kpx=(lay.dp[1]-lay.dp[0])/(N-1);
  option.xAxis.push({type:'value', gridIndex:k, show:false, min:-(lay.dp[0]-L)/kpx, max:(N-1)+(R-lay.dp[1])/kpx, axisLine:{onZero:false}});
  const tmin=Math.pow(10,-(lay.xt[0]-L)/lay.xt[1]), tmax=Math.pow(10,(R-lay.xt[0])/lay.xt[1]);
  ['bottom','top'].forEach(pos=>option.xAxis.push({type:'log', gridIndex:k, position:pos, min:tmin, max:tmax,
     axisLine:{show:false, onZero:false}, axisLabel:{show:false}, splitLine:{show:false}, axisTick:tickStyle, minorTick:minorStyle}));
  const ymin=Math.pow(10,lay.yr[0]), ymax=Math.pow(10,lay.yr[1]);
  const lab=lay.lab;
  const left={type:'log', gridIndex:k, position:'left', min:ymin, max:ymax,
     axisLine:{show:false, onZero:false}, splitLine:{show:false}, axisTick:tickStyle, minorTick:minorStyle,
     axisLabel:{show:false}};
  if(lab){
    left.axisLabel={show:true, margin:lab.margin, color:'#000', fontSize:11, fontWeight:'bold', fontFamily:SERIF,
      showMinLabel:true, showMaxLabel:true, hideOverlap:false,
      formatter:v=>{const e=Math.log10(v), r=Math.round(e); if(Math.abs(e-r)>1e-6) return ''; if(lab.even && r%2) return ''; return '10{s|'+r+'}';},
      rich:{s:{fontSize:7.5, fontWeight:'bold', fontFamily:SERIF, color:'#000', padding:[0,0,7,0]}}};
    if(lab.name!==undefined){
      left.name=yAxisTitles[lab.name]; left.nameLocation='middle'; left.nameGap=lab.gap; left.nameRotate=90;
      left.nameTextStyle={fontSize:11, fontWeight:'bold', fontFamily:SERIF, color:'#000'};
    }
  }
  option.yAxis.push(left);
  option.yAxis.push({type:'log', gridIndex:k, position:'right', min:ymin, max:ymax,
     axisLine:{show:false, onZero:false}, splitLine:{show:false}, axisTick:tickStyle, minorTick:minorStyle, axisLabel:{show:false}});
  panelData[k].forEach((arr,j)=>{
    option.series.push(Object.assign({type:'scatter', name:seriesNames[j], xAxisIndex:3*k, yAxisIndex:2*k,
      clip:true, silent:true, z:2+j,
      data:arr.map((v,i)=>[i,Math.pow(10,v)])}, markers[j]));
  });
  option.legend.push({data:seriesNames.map((n,j)=>Object.assign({name:n}, legendIcons[j])),
    left:lay.legend[0], top:lay.legend[1], width:400, orient:'horizontal',
    itemWidth:5, itemHeight:5, itemGap:7, padding:[2,3,2,6], borderColor:'#000', borderWidth:1.3,
    backgroundColor:'#fff', selectedMode:false, z:10,
    formatter:n=>'{r|ρ}{s|'+n.slice(1)+'}',
    textStyle:{rich:{r:{fontSize:11, fontFamily:SERIF, color:'#000'},
                     s:{fontSize:8, fontWeight:'bold', fontFamily:SERIF, color:'#000', padding:[7,0,0,0]}}}});
  option.graphic.push({type:'text', x:lay.title[0], y:lay.title[1], z:20,
    style:{text:panelNames[k], align:'center', verticalAlign:'middle', font:'bold 12px '+SERIF, fill:'#111'}});
});

const chart=echarts.init(document.getElementById('c'),null,{renderer:'canvas'});
chart.setOption(option);
</script>
</body></html>
